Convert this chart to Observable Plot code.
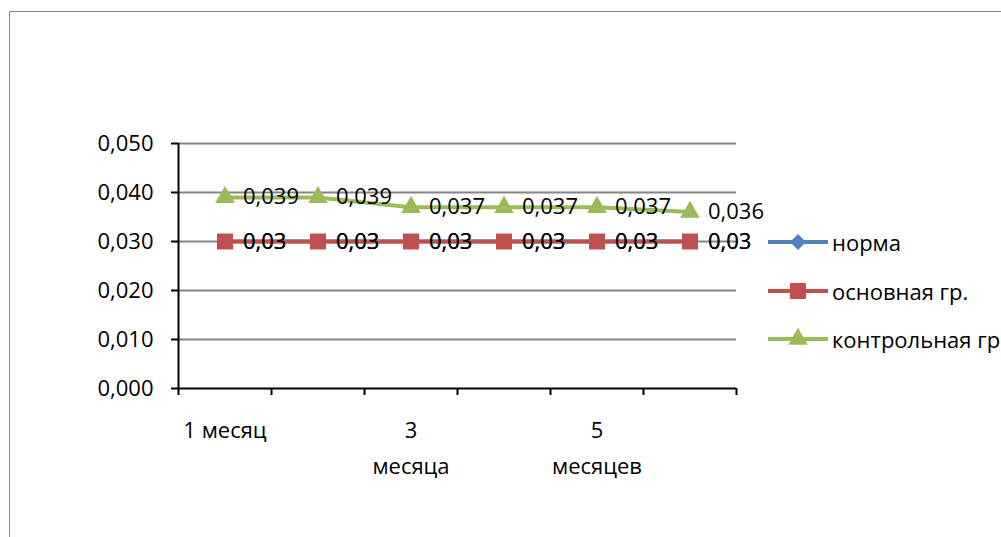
<!DOCTYPE html>
<html>
<head>
<meta charset="utf-8">
<script src="https://cdn.jsdelivr.net/npm/d3@7"></script>
<script src="https://cdn.jsdelivr.net/npm/@observablehq/plot@0.6"></script>
<style>
  body { margin: 0; background: #fff; }
  #wrap { position: relative; width: 1001px; height: 537px; overflow: hidden; font-family: "Open Sans", sans-serif; }
  #frame { position: absolute; left: 9px; top: 11px; width: 1100px; height: 700px; border: 1px solid #868686; }
  #chart { position: absolute; left: 0; top: 0; }
  #legend { position: absolute; left: 768px; top: 218px; }
  .row { display: flex; align-items: center; height: 48.5px; white-space: nowrap; font-size: 22px; color: #000; }
  .row svg { margin-right: 2px; }
</style>
</head>
<body>
<div id="wrap">
  <div id="frame"></div>
  <div id="chart"></div>
  <div id="legend"></div>
</div>
<script>
// Observation periods (x categories) and the labels printed under them
const periods = ["1 месяц", "2 месяца", "3 месяца", "4 месяца", "5 месяцев", "6 месяцев"];
const periodLabels = ["1 месяц", "", "3\nмесяца", "", "5\nмесяцев", ""];

// Series
const seriesNames = ["норма", "основная гр.", "контрольная гр."];
const norma = [0.03, 0.03, 0.03, 0.03, 0.03, 0.03];
const mainGroup = [0.03, 0.03, 0.03, 0.03, 0.03, 0.03];
const controlGroup = [0.039, 0.039, 0.037, 0.037, 0.037, 0.036];

const seriesColors = ["#4F81BD", "#C0504D", "#9BBB59"];
const seriesSymbols = ["diamond2", "square", "triangle"];
const seriesR = [7.2, 9, 7.3];

// Y axis ticks
const yTicks = [0, 0.01, 0.02, 0.03, 0.04, 0.05];

const values = [norma, mainGroup, controlGroup];
const rows = values.flatMap((vals, s) =>
  vals.map((v, i) => ({series: seriesNames[s], s, i, x: i + 0.5, period: periods[i], value: v}))
);

const comma = (v) => String(v).replace(".", ",");
const yFmt = (v) => d3.format(".3f")(v).replace(".", ",");

const marks = [
  Plot.gridY(yTicks.slice(1), {stroke: "#868686", strokeOpacity: 1, strokeWidth: 2}),
  Plot.ruleX([0], {y1: 0, y2: 0.05, stroke: "#000", strokeWidth: 2}),
  Plot.ruleY([0], {stroke: "#000", strokeWidth: 2}),
  Plot.axisY(yTicks, {tickSize: 7, tickPadding: 18, tickFormat: yFmt, stroke: "#000", strokeWidth: 2, fill: "#000", label: null}),
  Plot.axisX(d3.range(0, periods.length + 1), {tickSize: 7, tickFormat: () => "", stroke: "#000", strokeWidth: 2, label: null}),
  Plot.axisX(periods.map((p, i) => i + 0.5), {
    tickSize: 0, tickPadding: 25, lineHeight: 1.6,
    tickFormat: (d) => periodLabels[Math.round(d - 0.5)],
    fill: "#000", label: null
  })
];

seriesNames.forEach((name, s) => {
  const data = rows.filter((d) => d.s === s);
  marks.push(
    Plot.line(data, {x: "x", y: "value", stroke: seriesColors[s], strokeWidth: 4}),
    Plot.dot(data, {x: "x", y: "value", symbol: seriesSymbols[s], r: seriesR[s], fill: seriesColors[s], stroke: "none"})
  );
});
seriesNames.forEach((name, s) => {
  const data = rows.filter((d) => d.s === s);
  marks.push(
    Plot.text(data, {x: "x", y: "value", text: (d) => comma(d.value), dx: 18, textAnchor: "start", fill: "#000", fontSize: 22})
  );
});

const chart = Plot.plot({
  width: 1001,
  height: 537,
  marginLeft: 178,
  marginRight: 265,
  marginTop: 143,
  marginBottom: 149,
  style: {fontFamily: "Open Sans", fontSize: "22px", background: "transparent", color: "#000"},
  x: {type: "linear", domain: [0, periods.length], axis: null},
  y: {domain: [0, 0.05], axis: null},
  marks
});
document.getElementById("chart").append(chart);

// Legend: line segment with the series marker, followed by the series name
const legend = d3.select("#legend");
seriesNames.forEach((name, s) => {
  const row = legend.append("div").attr("class", "row");
  const svg = row.append("svg").attr("width", 62).attr("height", 24);
  svg.append("line").attr("x1", 0).attr("x2", 60).attr("y1", 12).attr("y2", 12)
    .attr("stroke", seriesColors[s]).attr("stroke-width", 4);
  const sym = {diamond2: d3.symbolDiamond2, square: d3.symbolSquare, triangle: d3.symbolTriangle}[seriesSymbols[s]];
  svg.append("path").attr("transform", "translate(30,12)")
    .attr("d", d3.symbol(sym, Math.PI * seriesR[s] * seriesR[s])())
    .attr("fill", seriesColors[s]);
  row.append("span").text(name);
});
</script>
</body>
</html>
